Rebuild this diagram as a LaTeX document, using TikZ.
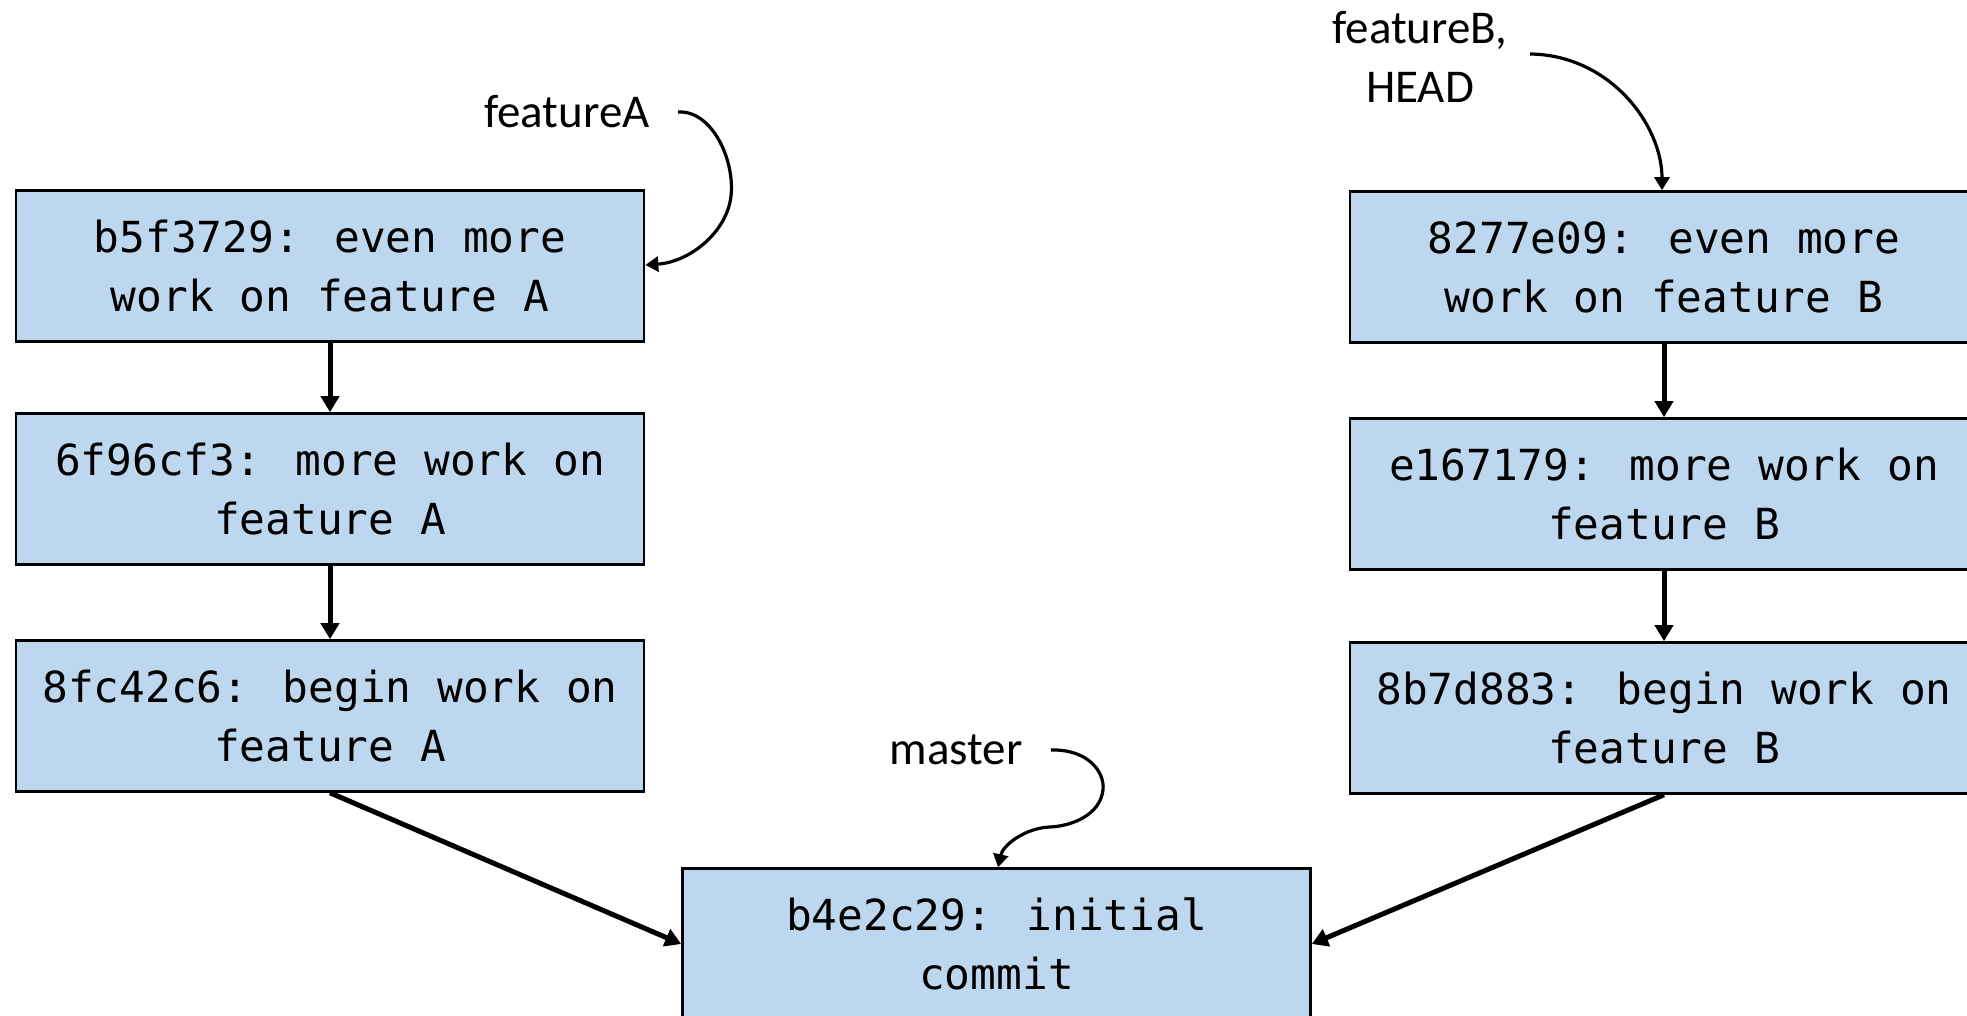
\documentclass[tikz,border=0pt]{standalone}
\usepackage{fontspec}
\setmainfont{Carlito}
\newfontfamily\commitfont{DejaVu Sans Mono}
\usetikzlibrary{arrows.meta}
\definecolor{commitfill}{HTML}{BDD7EE}
\tikzset{
  commit/.style={draw=black, line width=1.3pt, fill=commitfill, inner sep=0pt,
    minimum width=314pt, minimum height=75.5pt, align=center,
    font=\commitfont\fontsize{21.4}{29.5}\selectfont},
  reflabel/.style={inner sep=0pt, align=center, font=\fontsize{23.5}{29.5}\selectfont},
  parent/.style={line width=2.5pt, -{Triangle[length=8pt, width=9pt]}},
  pointer/.style={line width=1.6pt, -{Triangle[length=6.5pt, width=7.5pt]}}
}
\begin{document}
\begin{tikzpicture}[x=0.5pt, y=-0.5pt]
  \useasboundingbox (0,0) rectangle (1967,1016);
  \clip (0,0) rectangle (1967,1016);

  % branch featureA
  \node[commit] (a3) at (330,266) {b5f3729: even more\\work on feature A};
  \node[commit] (a2) at (330,489) {6f96cf3: more work on\\feature A};
  \node[commit] (a1) at (330,716) {8fc42c6: begin work on\\feature A};

  % branch featureB
  \node[commit] (b3) at (1664,267) {8277e09: even more\\work on feature B};
  \node[commit] (b2) at (1664,494) {e167179: more work on\\feature B};
  \node[commit] (b1) at (1664,718) {8b7d883: begin work on\\feature B};

  % common root
  \node[commit] (root) at (996.5,944) {b4e2c29: initial\\commit};

  % parent links
  \draw[parent] (a3.south) -- (a2.north);
  \draw[parent] (a2.south) -- (a1.north);
  \draw[parent] (b3.south) -- (b2.north);
  \draw[parent] (b2.south) -- (b1.north);
  \draw[parent] (a1.south) -- (root.west);
  \draw[parent] (b1.south) -- (root.east);

  % branch pointers
  \node[reflabel] (fa) at (567,112) {featureA};
  \node[reflabel] (fb) at (1420,57) {featureB,\\HEAD};
  \node[reflabel] (ms) at (956,750) {master};

  \draw[pointer] ([xshift=14pt]fa.east) .. controls (712,110) and (735,160) .. (731,196)
    .. controls (727,232) and (690,262) .. (a3.east |- 0,265);
  \draw[pointer] (1530,54) .. controls (1610,55) and (1662,125) .. (b3.north -| 1662,0);
  \draw[pointer] ([xshift=14pt]ms.east) .. controls (1088,749) and (1105,772) .. (1103,790)
    .. controls (1100,815) and (1072,826) .. (1050,827)
    .. controls (1025,828) and (1003,845) .. (root.north -| 998,0);
\end{tikzpicture}
\end{document}
